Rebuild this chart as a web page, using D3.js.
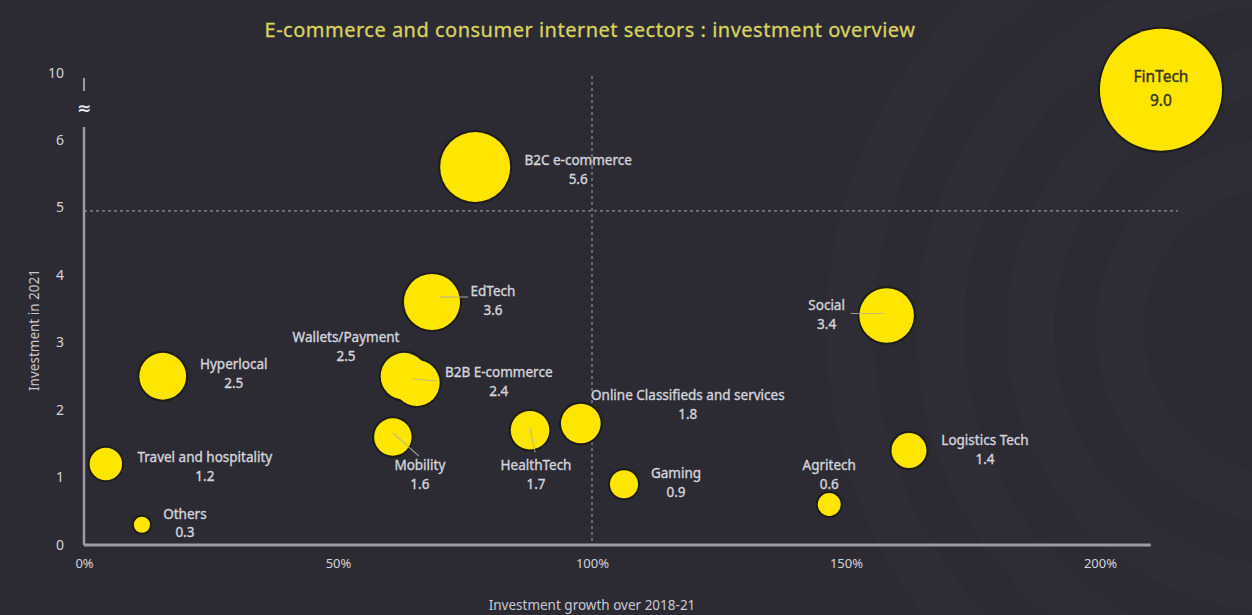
<!DOCTYPE html>
<html>
<head>
<meta charset="utf-8">
<script src="https://cdn.jsdelivr.net/npm/d3@7/dist/d3.min.js"></script>
<style>
  html, body { margin: 0; padding: 0; background: #2c2b34; }
  svg { display: block; }
  text { font-family: "Noto Sans", "DejaVu Sans", sans-serif; }
</style>
</head>
<body>
<svg id="chart" width="1252" height="615"></svg>
<script>
// ---------------- data ----------------
const categories = ["B2C e-commerce", "EdTech", "Social", "Hyperlocal", "Wallets/Payment",
  "B2B E-commerce", "Online Classifieds and services", "HealthTech", "Mobility",
  "Logistics Tech", "Travel and hospitality", "Gaming", "Agritech", "Others", "FinTech"];
const investment2021 = [5.6, 3.6, 3.4, 2.5, 2.5, 2.4, 1.8, 1.7, 1.6, 1.4, 1.2, 0.9, 0.6, 0.3, 9.0];
const growth2018_21 = [77, 68.5, 158, 15.5, 63, 65.5, 97.8, 87.8, 60.8, 162.4, 4.3, 106.3, 146.7, 11.4, 212];
const xTickValues = [0, 50, 100, 150, 200];
const yTickValues = [0, 1, 2, 3, 4, 5, 6, 10];
const xThreshold = 100;
const yThreshold = 4.95;
const title = "E-commerce and consumer internet sectors : investment overview";
const xTitle = "Investment growth over 2018-21";
const yTitle = "Investment in 2021";

// ---------------- layout (label offsets, px from bubble centre) ----------------
const labelLayout = {
  "B2C e-commerce": { dx: 103, dy: -2 },
  "EdTech": { dx: 61, dy: -6, leader: [8, -5, 36, -5] },
  "Social": { dx: -60, dy: -5.5, leader: [-36, -2, -3, -2] },
  "Hyperlocal": { dx: 71, dy: -7 },
  "Wallets/Payment": { dx: -58, dy: -34 },
  "B2B E-commerce": { dx: 82, dy: -6, leader: [-4, -4, 21, -2] },
  "Online Classifieds and services": { dx: 107, dy: -23.5 },
  "HealthTech": { dx: 6, dy: 40, leader: [0, -2, 5, 22] },
  "Mobility": { dx: 27, dy: 33, leader: [0, -4, 26, 19] },
  "Logistics Tech": { dx: 76, dy: -5.5 },
  "Travel and hospitality": { dx: 99, dy: -2 },
  "Gaming": { dx: 52, dy: -6 },
  "Agritech": { dx: 0, dy: -34.5 },
  "Others": { dx: 43, dy: -6 },
  "FinTech": { dx: 0, dy: -8, inside: true }
};

const W = 1252, H = 615;
const svg = d3.select("#chart");

// background
svg.append("rect").attr("width", W).attr("height", H).attr("fill", "#2c2b34");
// faint decorative arcs (background motif)
const deco = svg.append("g").attr("fill", "none").attr("stroke", "#ffffff").attr("stroke-opacity", 0.011);
[170, 260, 350, 440].forEach(rr => {
  deco.append("circle").attr("cx", 1290).attr("cy", 330).attr("r", rr).attr("stroke-width", 48);
});

// scales
const x = d3.scaleLinear().domain([0, 200]).range([84, 1100]);
const y = d3.scaleLinear().domain([0, 6, 10]).range([545, 140, 73]);
const r = d3.scaleSqrt().domain([0, 5.6, 9]).range([0, 35, 61]);

const axisColor = "#9b9aa6";
const textColor = "#d4d4dc";

// title
svg.append("text").attr("x", 590).attr("y", 37).attr("text-anchor", "middle")
  .attr("font-size", 20).attr("letter-spacing", 0.5).attr("fill", "#d9d35e")
  .attr("stroke", "#d9d35e").attr("stroke-width", 0.3).text(title);

// threshold dashed lines
svg.append("line").attr("x1", x(0)).attr("x2", 1178).attr("y1", y(yThreshold)).attr("y2", y(yThreshold))
  .attr("stroke", "#8d8c98").attr("stroke-width", 1.2).attr("stroke-dasharray", "3,3");
svg.append("line").attr("x1", x(xThreshold)).attr("x2", x(xThreshold)).attr("y1", 76).attr("y2", y(0))
  .attr("stroke", "#8d8c98").attr("stroke-width", 1.2).attr("stroke-dasharray", "3,3");

// x axis
const xAxis = d3.axisBottom(x).tickValues(xTickValues).tickFormat(d => d + "%").tickSize(0).tickPadding(14);
const gx = svg.append("g").attr("transform", `translate(0,${y(0)})`).call(xAxis);
gx.select(".domain").remove();
gx.append("line").attr("x1", x(0)).attr("x2", x(210)).attr("y1", 0).attr("y2", 0)
  .attr("stroke", axisColor).attr("stroke-width", 3);
gx.selectAll(".tick text").attr("fill", textColor).attr("font-size", 13)
  .attr("font-family", "'Noto Sans', sans-serif");

// y axis (broken)
const yAxis = d3.axisLeft(y).tickValues(yTickValues).tickFormat(d3.format("d")).tickSize(0).tickPadding(20);
const gy = svg.append("g").attr("transform", `translate(${x(0)},0)`).call(yAxis);
gy.select(".domain").remove();
gy.append("line").attr("x1", 0).attr("x2", 0).attr("y1", 127).attr("y2", y(0))
  .attr("stroke", axisColor).attr("stroke-width", 2.5);
gy.append("line").attr("x1", 0).attr("x2", 0).attr("y1", 78).attr("y2", 91)
  .attr("stroke", axisColor).attr("stroke-width", 2);
gy.append("text").attr("x", 0).attr("y", 114).attr("text-anchor", "middle")
  .attr("font-size", 17).attr("font-weight", "bold").attr("fill", "#e4e4ea").text("\u2248");
gy.selectAll(".tick text").attr("fill", textColor).attr("font-size", 14)
  .attr("font-family", "'Noto Sans', sans-serif");

// axis titles
svg.append("text").attr("x", 592).attr("y", 610).attr("text-anchor", "middle")
  .attr("font-size", 13.5).attr("fill", "#c9c9d2").text(xTitle);
svg.append("text").attr("transform", "translate(39,330) rotate(-90)").attr("text-anchor", "middle")
  .attr("font-size", 13.5).attr("fill", "#c9c9d2").text(yTitle);

// data rows
const rows = categories.map((c, i) => ({ name: c, value: investment2021[i], growth: growth2018_21[i] }));

// bubbles: outline layer below, fill layer above (overlapping bubbles merge)
const outlines = svg.append("g");
outlines.selectAll("circle").data(rows).join("circle")
  .attr("cx", d => x(d.growth)).attr("cy", d => y(d.value)).attr("r", d => r(d.value) + 2)
  .attr("fill", "#1d1c16");
const bubbles = svg.append("g");
bubbles.selectAll("circle").data(rows).join("circle")
  .attr("cx", d => x(d.growth)).attr("cy", d => y(d.value)).attr("r", d => r(d.value))
  .attr("fill", "#ffe600");

// leader lines
const leaders = svg.append("g");
rows.forEach(d => {
  const L = labelLayout[d.name];
  if (L && L.leader) {
    const cx = x(d.growth), cy = y(d.value);
    leaders.append("line")
      .attr("x1", cx + L.leader[0]).attr("y1", cy + L.leader[1])
      .attr("x2", cx + L.leader[2]).attr("y2", cy + L.leader[3])
      .attr("stroke", "#b7b19a").attr("stroke-width", 1.2).attr("stroke-opacity", 0.8);
  }
});

// labels
const labels = svg.append("g");
rows.forEach(d => {
  const L = labelLayout[d.name];
  const cx = x(d.growth), cy = y(d.value);
  const col = L.inside ? "#3a3620" : textColor;
  const t = labels.append("text").attr("text-anchor", "middle")
    .attr("fill", col)
    .attr("stroke", col).attr("stroke-width", L.inside ? 0.4 : 0.35)
    .attr("font-size", L.inside ? 15.5 : 13.5);
  t.append("tspan").attr("x", cx + L.dx).attr("y", cy + L.dy).text(d.name);
  t.append("tspan").attr("x", cx + L.dx).attr("y", cy + L.dy + (L.inside ? 24 : 18.5))
    .text(d3.format(".1f")(d.value));
});
</script>
</body>
</html>
